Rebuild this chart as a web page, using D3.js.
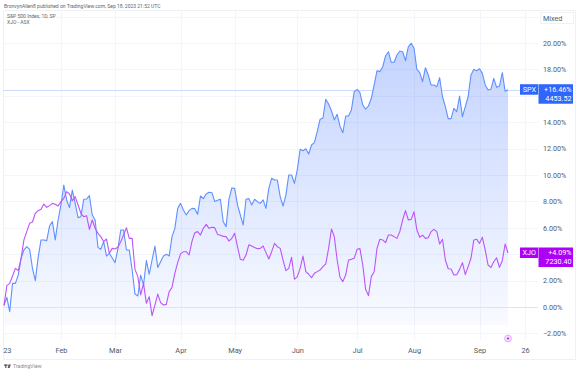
<!DOCTYPE html>
<html>
<head>
<meta charset="utf-8">
<script src="https://cdnjs.cloudflare.com/ajax/libs/d3/7.8.5/d3.min.js"></script>
<style>
  html, body { margin: 0; padding: 0; background: #fff; }
  svg { display: block; font-family: Roboto, sans-serif; }
</style>
</head>
<body>
<div id="chart"></div>
<script>
// percent change since start of the year, one value per daily bar
var spxValues = [0.15,0.73,-0.35,1.79,1.79,2.42,3.69,4.32,4.57,4.37,2.93,2.0,3.76,5.08,5.08,5.03,6.14,6.47,5.08,6.59,
  7.73,9.24,8.11,7.53,8.86,7.85,6.77,6.84,8.16,8.18,8.43,6.97,6.59,4.52,4.37,4.95,3.86,4.07,3.71,3.36,
  4.4,5.83,5.83,4.32,4.32,2.8,0.98,0.83,2.42,1.67,3.51,2.48,3.56,4.62,3.0,3.43,3.86,3.99,3.86,5.33,5.96,7.47,7.85,
  7.35,6.97,7.3,7.47,7.45,7.02,8.41,8.21,8.56,8.69,8.66,8.0,8.08,8.16,6.46,6.09,8.16,9.02,8.99,7.73,6.97,6.21,
  8.16,8.21,7.73,8.16,7.98,7.85,8.11,7.47,8.99,9.75,9.62,9.62,8.36,7.65,8.48,10.0,10.0,9.37,10.38,11.95,11.84,11.99,
  11.59,12.27,12.45,13.28,14.22,14.3,15.73,15.38,14.87,14.17,14.6,13.7,13.2,
  14.47,14.47,14.92,16.31,16.49,16.24,15.3,14.98,15.23,15.81,16.82,17.9,17.83,18.2,19.02,19.34,18.54,18.54,19.09,19.39,
  19.34,18.66,19.72,19.98,19.6,18.0,17.75,17.07,18.13,17.58,16.82,16.82,16.69,17.37,15.93,15.18,14.27,14.27,15.05,14.8,
  15.98,14.42,15.18,15.93,17.58,18.0,17.9,18.05,17.7,16.82,16.44,16.49,17.32,16.64,16.74,17.75,16.34,16.46];

var xjoValues = [0.1,1.62,1.79,2.35,2.93,2.75,3.69,5.08,5.71,6.34,6.44,7.1,7.3,7.4,7.8,7.55,7.68,7.85,7.78,7.65,
  7.98,8.23,8.74,8.56,8.05,8.36,7.73,7.1,6.84,6.92,5.88,6.59,5.96,5.58,5.33,4.95,5.15,4.07,4.44,4.39,
  4.52,4.95,5.45,6.0,5.2,5.2,2.85,2.3,0.91,1.79,0.28,0.78,-0.66,0.15,0.98,0.33,0.15,0.2,1.16,1.49,2.55,3.36,4.02,
  4.19,4.19,3.94,4.95,5.63,5.71,5.45,5.96,6.26,5.96,6.04,6.01,5.5,5.43,5.35,5.33,5.0,5.2,5.58,4.57,3.61,3.54,
  3.94,4.72,4.62,4.5,4.42,4.44,4.62,4.12,3.64,4.19,4.82,4.57,4.44,3.56,2.75,2.93,3.76,2.1,2.3,2.93,3.86,2.68,
  2.48,2.22,2.55,2.68,2.8,3.06,3.26,4.44,5.91,5.33,3.56,2.25,1.92,
  2.42,3.56,3.61,3.69,4.37,4.42,3.18,1.34,0.86,2.3,2.67,4.44,5.13,5.08,4.87,5.45,5.45,5.33,5.2,5.71,
  6.59,7.3,6.59,6.64,7.22,5.83,5.28,5.45,5.2,5.25,5.71,5.88,5.71,4.77,5.13,3.56,2.9,2.88,2.42,2.45,
  2.85,3.36,2.45,3.06,3.69,5.08,5.13,4.82,5.28,4.32,3.18,3.0,3.43,3.73,3.0,3.51,4.77,4.09];

var tickBars = [1, 20, 39, 62, 81, 103, 124, 144, 167, 183];
var tickLabels = ["23", "Feb", "Mar", "Apr", "May", "Jun", "Jul", "Aug", "Sep", "26"];
var gridTicks = [-2, 0, 2, 4, 6, 8, 10, 12, 14, 16, 18, 20, 22];
// 4% and 16% sit behind the last value tags
var labelTicks = [-2, 0, 2, 6, 8, 10, 12, 14, 18, 20];

var width = 579, height = 373;
var frame = { top: 10, right: 575, bottom: 359, left: 3 };
var fillBottomY = 325;
var spxColor = "#5f90ff", xjoColor = "#bb55f8";

var svg = d3.select("#chart").append("svg")
  .attr("width", width)
  .attr("height", height);

var x = d3.scaleLinear().domain([0, 177]).range([4, 508]);
var y = d3.scaleLinear().domain([0, 20]).range([307, 43]);

// gradient under the S&P line
var grad = svg.append("defs").append("linearGradient")
  .attr("id", "spxFill")
  .attr("gradientUnits", "userSpaceOnUse")
  .attr("x1", 0).attr("x2", 0)
  .attr("y1", y(20)).attr("y2", fillBottomY);
grad.append("stop").attr("offset", 0).attr("stop-color", "#2962ff").attr("stop-opacity", 0.28);
grad.append("stop").attr("offset", 1).attr("stop-color", "#2962ff").attr("stop-opacity", 0.03);

// frame
svg.append("rect")
  .attr("x", frame.left + 0.5).attr("y", frame.top + 0.5)
  .attr("width", frame.right - frame.left).attr("height", frame.bottom - frame.top)
  .attr("fill", "none").attr("stroke", "#f0f1f5");

// grid
var grid = svg.append("g").attr("stroke", "#f4f5fa");
grid.selectAll("line.h").data(gridTicks).enter().append("line")
  .attr("class", "h")
  .attr("x1", frame.left).attr("x2", 538)
  .attr("y1", function (d) { return Math.round(y(d)) + 0.5; })
  .attr("y2", function (d) { return Math.round(y(d)) + 0.5; });
grid.selectAll("line.v").data(tickBars.slice(1)).enter().append("line")
  .attr("class", "v")
  .attr("x1", function (d) { return Math.round(x(d)) + 0.5; })
  .attr("x2", function (d) { return Math.round(x(d)) + 0.5; })
  .attr("y1", frame.top).attr("y2", 340);

// area and lines
var area = d3.area()
  .x(function (d, i) { return x(i); })
  .y0(fillBottomY)
  .y1(function (d) { return y(d); });
svg.append("path").datum(spxValues).attr("d", area).attr("fill", "url(#spxFill)");

// base lines
svg.append("line")
  .attr("x1", frame.left).attr("x2", 538)
  .attr("y1", Math.round(y(0)) + 0.5).attr("y2", Math.round(y(0)) + 0.5)
  .attr("stroke", "#dfe3ee");
svg.append("line")
  .attr("x1", frame.left).attr("x2", 538)
  .attr("y1", Math.round(y(16.46)) + 0.5).attr("y2", Math.round(y(16.46)) + 0.5)
  .attr("stroke", "#d0dbfc");

var line = d3.line()
  .x(function (d, i) { return x(i); })
  .y(function (d) { return y(d); });
svg.append("path").datum(spxValues).attr("d", line)
  .attr("fill", "none").attr("stroke", spxColor).attr("stroke-width", 1.1).attr("stroke-linejoin", "round");
svg.append("path").datum(xjoValues).attr("d", line)
  .attr("fill", "none").attr("stroke", xjoColor).attr("stroke-width", 1.1).attr("stroke-linejoin", "round");

// axes
var xAxis = d3.axisBottom(x)
  .tickValues(tickBars)
  .tickSize(0)
  .tickFormat(function (d, i) { return tickLabels[i]; });
var xg = svg.append("g").attr("transform", "translate(0,345)").call(xAxis);
xg.select(".domain").remove();
xg.selectAll("text").attr("font-size", 7.4).attr("fill", "#555a66").attr("font-family", "Roboto");

var yAxis = d3.axisRight(y)
  .tickValues(labelTicks)
  .tickSize(0)
  .tickFormat(function (d) { return (d < 0 ? "\u2212" : "") + Math.abs(d).toFixed(2) + "%"; });
var yg = svg.append("g").attr("transform", "translate(540,0)").call(yAxis);
yg.select(".domain").remove();
yg.selectAll("text").attr("x", 3).attr("font-size", 7.2).attr("fill", "#555a66").attr("font-family", "Roboto");

// "Mixed" box
svg.append("rect").attr("x", 540.5).attr("y", 12.5).attr("width", 33).attr("height", 11)
  .attr("fill", "#fff").attr("stroke", "#f0f1f5");
svg.append("text").attr("x", 543).attr("y", 21).attr("font-size", 7.2).attr("fill", "#555a66").text("Mixed");

// last value tags
function lastTag(name, color, pct, price, value) {
  var top = y(value) - 5.5;
  svg.append("rect").attr("x", 520).attr("y", top).attr("width", 18.5).attr("height", 10.5).attr("fill", color);
  svg.append("rect").attr("x", 538.5).attr("y", top).attr("width", 34.5).attr("height", 19.5).attr("fill", color);
  svg.append("line").attr("x1", 538.5).attr("x2", 538.5).attr("y1", top).attr("y2", top + 10.5)
    .attr("stroke", "#fff").attr("stroke-width", 0.6).attr("stroke-dasharray", "1 1");
  svg.append("text").attr("x", 529.3).attr("y", top + 7.8).attr("text-anchor", "middle")
    .attr("font-size", 7.2).attr("fill", "#fff").text(name);
  svg.append("text").attr("x", 571.5).attr("y", top + 7.8).attr("text-anchor", "end")
    .attr("font-size", 7.2).attr("fill", "#fff").text(pct);
  svg.append("text").attr("x", 571.5).attr("y", top + 16.8).attr("text-anchor", "end")
    .attr("font-size", 7.2).attr("fill", "#fff").text(price);
}
lastTag("SPX", "#2f66fb", "+16.46%", "4453.52", 16.46);
lastTag("XJO", "#ae00f5", "+4.09%", "7230.40", 4.09);

// compare marker
svg.append("circle").attr("cx", x(177)).attr("cy", 338.5).attr("r", 3.4)
  .attr("fill", "#f3e3fe").attr("stroke", "#d79bfb").attr("stroke-width", 0.8);
svg.append("circle").attr("cx", x(177)).attr("cy", 338.5).attr("r", 1)
  .attr("fill", "#ae00f5");

// header, legend, footer
svg.append("text").attr("x", 4).attr("y", 7.5).attr("font-size", 5).attr("fill", "#666").text("BronvynAllen8 published on TradingView.com, Sep 18, 2023 21:52 UTC");
svg.append("text").attr("x", 7).attr("y", 18).attr("font-size", 5).attr("fill", "#666").text("S&P 500 Index, 1D, SP");
svg.append("text").attr("x", 7).attr("y", 24).attr("font-size", 5).attr("fill", "#666").text("XJO - ASX");

// small logo mark
var logo = svg.append("g").attr("fill", "#555");
logo.append("rect").attr("x", 4).attr("y", 364.5).attr("width", 3.2).attr("height", 1.2);
logo.append("rect").attr("x", 5.2).attr("y", 364.5).attr("width", 1.2).attr("height", 3.5);
logo.append("circle").attr("cx", 8).attr("cy", 365.1).attr("r", 0.7);
logo.append("path").attr("d", d3.line()([[8.8, 364.5], [10.9, 364.5], [9.5, 368], [7.6, 368]]) + "Z");
svg.append("text").attr("x", 13).attr("y", 368).attr("font-size", 5.2).attr("fill", "#888").text("TradingView");
</script>
</body>
</html>
